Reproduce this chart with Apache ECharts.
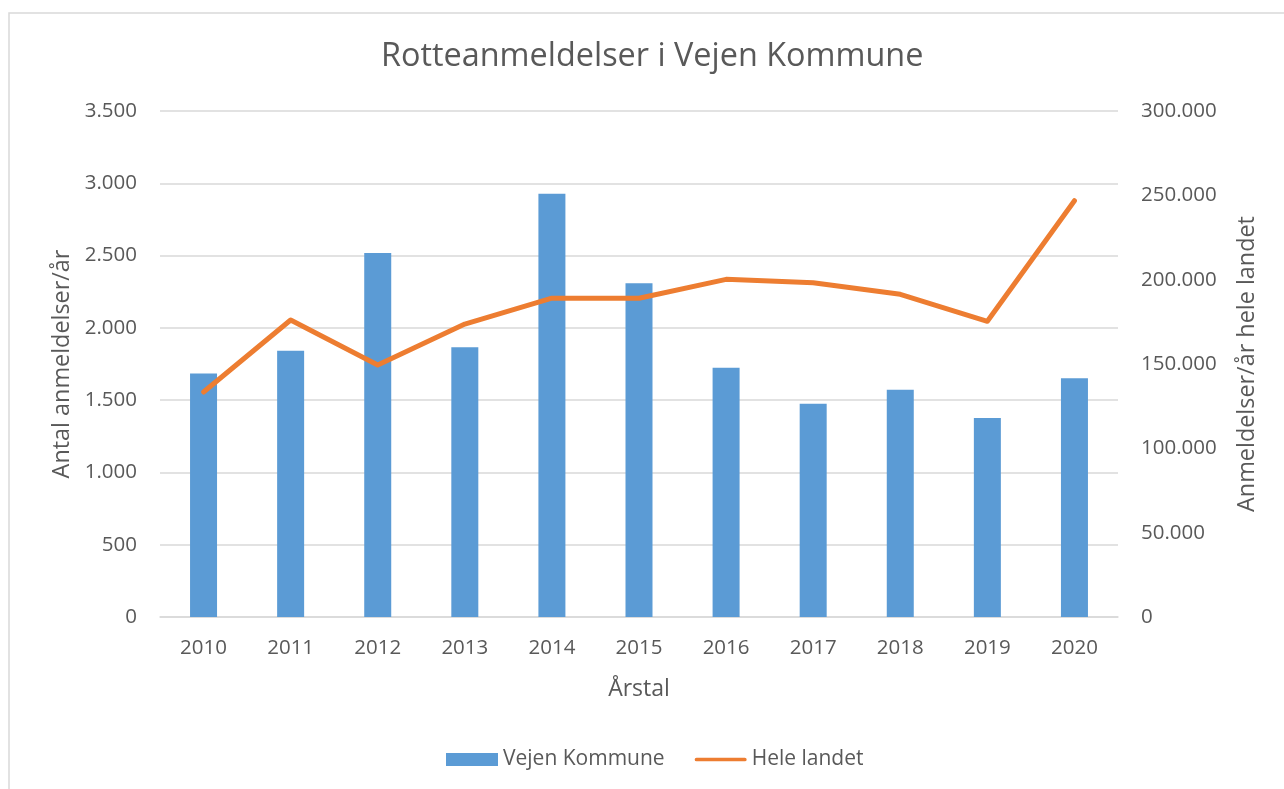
<!DOCTYPE html>
<html>
<head>
<meta charset="utf-8">
<script src="https://cdn.jsdelivr.net/npm/echarts@6/dist/echarts.min.js"></script>
<style>
  html, body { margin: 0; padding: 0; background: #fff; }
  #main { width: 1284px; height: 789px; }
</style>
</head>
<body>
<div id="main"></div>
<script>
// data
var years = ["2010", "2011", "2012", "2013", "2014", "2015", "2016", "2017", "2018", "2019", "2020"];
var vejenKommune = [1685, 1842, 2517, 1865, 2927, 2308, 1724, 1475, 1572, 1376, 1651];
var heleLandet = [133400, 176100, 149400, 173700, 189000, 189000, 200200, 198200, 191300, 175300, 246800];

var textColor = "#595959";
var gridColor = "#D9D9D9";
var font = "Open Sans";

// danish thousand separator
function fmt(v) {
  return String(v).replace(/\B(?=(\d{3})+(?!\d))/g, ".");
}

var myChart = echarts.init(document.getElementById("main"));
myChart.setOption({
  backgroundColor: "#fff",
  textStyle: { fontFamily: font },
  animation: false,
  graphic: [
    {
      type: "rect",
      shape: { x: 9, y: 13, width: 1300, height: 800 },
      style: { fill: "none", stroke: gridColor, lineWidth: 1.5 },
      silent: true
    }
  ],
  title: {
    text: "Rotteanmeldelser i Vejen Kommune",
    left: 381,
    top: 41,
    padding: 0,
    textStyle: {
      color: textColor,
      fontSize: 32.4,
      fontWeight: "normal",
      fontFamily: font
    }
  },
  grid: {
    left: 160,
    right: 166,
    top: 111,
    bottom: 172
  },
  legend: {
    bottom: 19,
    left: 446,
    padding: 0,
    itemGap: 30,
    itemWidth: 52,
    itemHeight: 13,
    textStyle: { color: textColor, fontSize: 21, fontFamily: font },
    data: [
      { name: "Vejen Kommune", icon: "rect" },
      { name: "Hele landet", icon: "path://M2,0 L54,0 A2,2 0 0 1 54,4 L2,4 A2,2 0 0 1 2,0 Z" }
    ]
  },
  xAxis: {
    type: "category",
    data: years,
    name: "Årstal",
    nameLocation: "middle",
    nameGap: 61,
    nameTextStyle: { color: textColor, fontSize: 23, fontFamily: font },
    axisLine: { lineStyle: { color: gridColor, width: 1.5 } },
    axisTick: { show: false },
    axisLabel: { color: textColor, fontSize: 20.5, margin: 21, fontFamily: font }
  },
  yAxis: [
    {
      type: "value",
      min: 0,
      max: 3500,
      interval: 500,
      name: "Antal anmeldelser/år",
      nameLocation: "middle",
      nameGap: 60,
      nameTextStyle: { color: textColor, fontSize: 23.4, fontFamily: font },
      axisLine: { show: false },
      axisTick: { show: false },
      splitLine: { lineStyle: { color: gridColor, width: 1.5 } },
      axisLabel: {
        color: textColor,
        fontSize: 20.5,
        margin: 23,
        fontFamily: font,
        formatter: fmt
      }
    },
    {
      type: "value",
      min: 0,
      max: 300000,
      interval: 50000,
      name: "Anmeldelser/år hele landet",
      nameLocation: "middle",
      nameGap: 118,
      nameTextStyle: { color: textColor, fontSize: 23.4, fontFamily: font },
      axisLine: { show: false },
      axisTick: { show: false },
      splitLine: { show: false },
      axisLabel: {
        color: textColor,
        fontSize: 20.5,
        margin: 23,
        fontFamily: font,
        formatter: fmt
      }
    }
  ],
  series: [
    {
      name: "Vejen Kommune",
      type: "bar",
      yAxisIndex: 0,
      barWidth: 27,
      itemStyle: { color: "#5B9BD5" },
      data: vejenKommune
    },
    {
      name: "Hele landet",
      type: "line",
      yAxisIndex: 1,
      symbol: "none",
      itemStyle: { color: "#ED7D31" },
      lineStyle: { color: "#ED7D31", width: 5, cap: "round", join: "round" },
      data: heleLandet
    }
  ]
});
</script>
</body>
</html>
